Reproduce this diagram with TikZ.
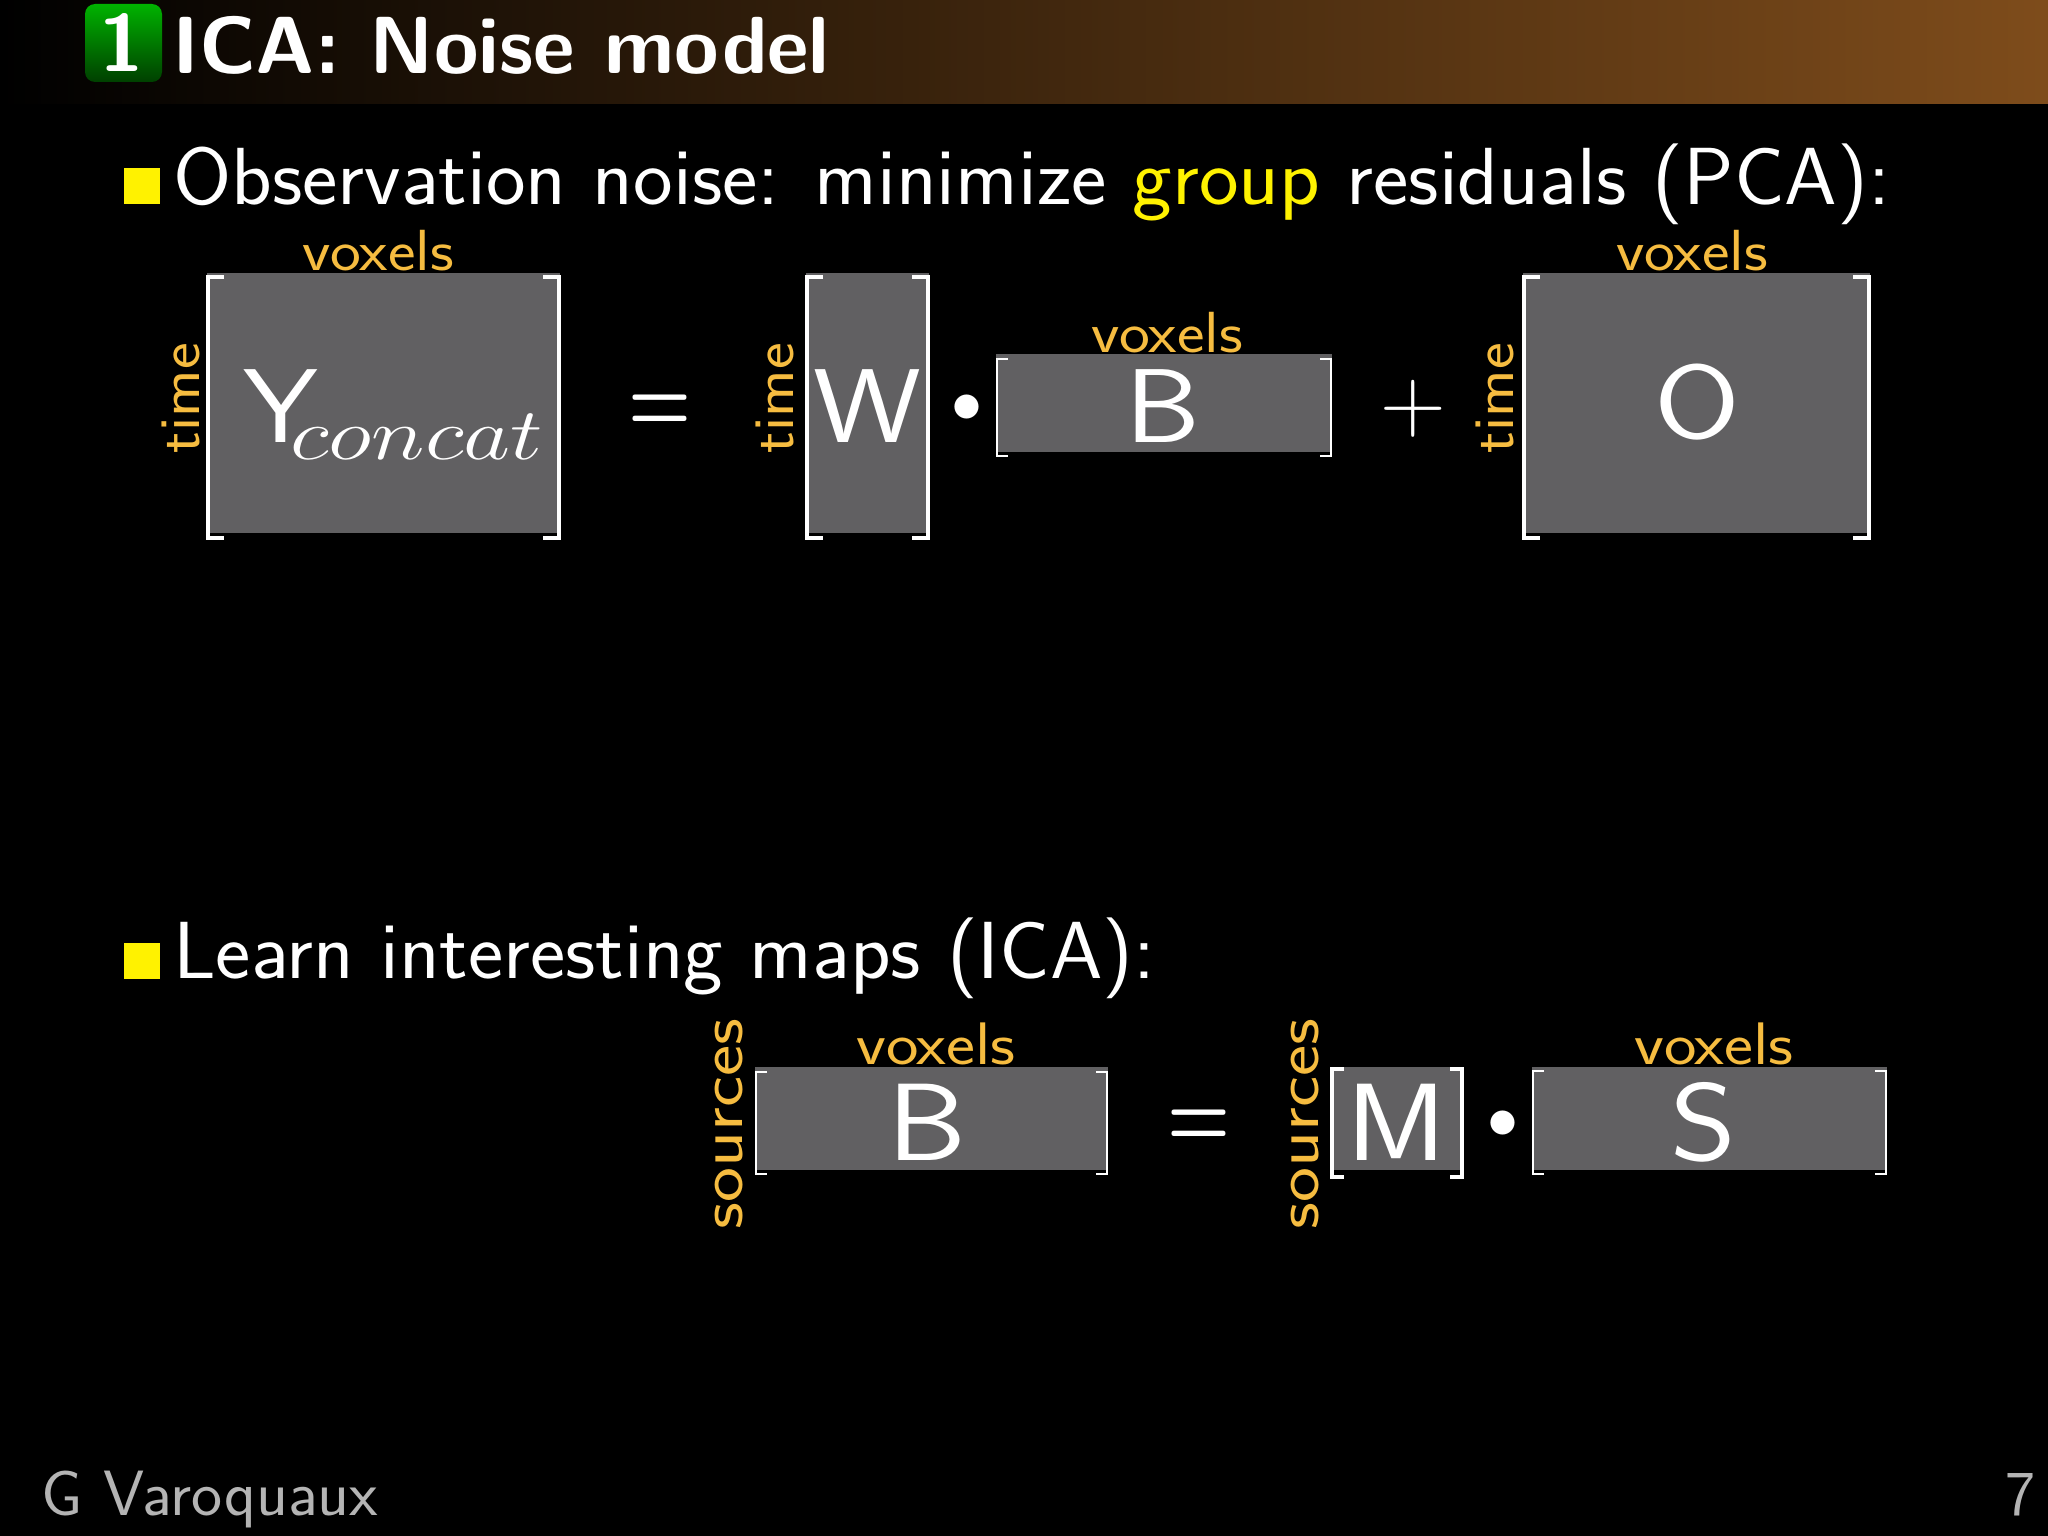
\documentclass[tikz,border=0pt]{standalone}
\usepackage{fix-cm}
\newcommand{\fsz}[1]{\fontsize{#1}{#1}\selectfont}
\newcommand{\xstretch}[2]{\scalebox{#1}[1]{#2}}
\definecolor{titlebrown}{HTML}{7E4C1B}
\definecolor{labelorange}{HTML}{F6BC40}
\definecolor{matgray}{HTML}{616062}
\definecolor{footgray}{HTML}{B4B4B4}
\tikzset{
	bodytext/.style={anchor=base west, inner sep=0pt, text=white, font=\sffamily\fsz{81}},
	biglabel/.style={anchor=base, inner sep=0pt, text=white, font=\sffamily\fsz{105}},
	dimlabel/.style={anchor=base, inner sep=0pt, text=labelorange, font=\sffamily\fsz{58}},
	opsign/.style={anchor=center, inner sep=0pt, text=white, font=\fsz{85}},
	footlabel/.style={anchor=base west, inner sep=0pt, text=footgray, font=\sffamily\fsz{64}},
}

\begin{document}
\begin{tikzpicture}[x=1pt, y=-1pt]
	\useasboundingbox (0,0) rectangle (2048,1536);
	\fill [black] (0,0) rectangle (2048,1536);

	% header band
	\shade [left color=black, right color=titlebrown] (0,0) rectangle (2048,104);
	\shade [rounded corners=10pt, top color=green!70!black, bottom color=black!75!green] (85,4) rectangle (162,82);
	\node (framenum) [anchor=base, inner sep=0pt, text=white, font=\sffamily\bfseries\fsz{81}] at (122,72) {1};
	\node (title) [bodytext, font=\sffamily\bfseries\fsz{81}] at (172,74) {ICA: Noise model};

	% the two items
	\foreach \y in {168,943}
		\fill [yellow] (124,\y) rectangle (160,\y + 36);
	\node (obsline) [bodytext] at (173,204) {\xstretch{1.039}{Observation noise: minimize \textcolor{yellow}{group} residuals (PCA):}};
	\node (learnline) [bodytext] at (173,978) {\xstretch{1.037}{Learn interesting maps (ICA):}};

	% matrices: left, right, top, bottom, bracket top, bracket bottom, tick, width
	\foreach \l/\r/\t/\b/\bt/\bb/\k/\w in {
		207/560/273/533/277/538/17/3.5,
		806/929/273/533/277/538/17/3.5,
		996/1332/354/452/359/456/12/2.5,
		1523/1870/273/533/277/538/17/3.5,
		755/1108/1067/1170/1072/1174/12/2.5,
		1331/1463/1067/1170/1069/1177/13/3.5,
		1532/1887/1067/1170/1071/1174/12/2.5}
	{
		\fill [matgray] (\l,\t) rectangle (\r,\b);
		\draw [white, line width=\w pt] (\l+\k,\bt) -- (\l+1,\bt) -- (\l+1,\bb) -- (\l+\k,\bb);
		\draw [white, line width=\w pt] (\r-\k,\bt) -- (\r-1,\bt) -- (\r-1,\bb) -- (\r-\k,\bb);
	}

	% first equation
	\node (ymat) [biglabel, anchor=base west] at (243,442) {\xstretch{1.14}{Y}};
	\node (concatsub) [biglabel, anchor=base west, font=\fsz{73.5}] at (290,459) {\xstretch{1.245}{$concat$}};
	\node (eqone) [opsign, font=\fsz{72}] at (660,414) {\scalebox{1}[1.35]{\boldmath$=$}};
	\node (wmat) [biglabel] at (867,442) {\xstretch{1.16}{W}};
	\node (dotone) [opsign, font=\fsz{62}] at (967,409) {$\bullet$};
	\node (bmat) [biglabel] at (1163,442) {\xstretch{1.14}{B}};
	\node (plusone) [opsign, font=\fsz{91}] at (1413,409) {$+$};
	\node (omat) [biglabel] at (1697,438) {\xstretch{1.18}{O}};

	\foreach \n/\x/\y in {voxa/378/270, voxb/1167/352, voxc/1692/270}
		\node (\n) [dimlabel] at (\x,\y) {\xstretch{1.13}{voxels}};
	\foreach \n/\x in {timea/199, timeb/793, timec/1513}
		\node (\n) [dimlabel, rotate=90] at (\x,398) {\xstretch{1.1}{time}};

	% second equation
	\node (bmatb) [biglabel, font=\sffamily\fsz{110}] at (927,1160) {\xstretch{1.15}{B}};
	\node (eqtwo) [opsign, font=\fsz{72}] at (1199,1129) {\scalebox{1}[1.35]{\boldmath$=$}};
	\node (mmat) [biglabel, font=\sffamily\fsz{110}] at (1397,1160) {\xstretch{1.11}{M}};
	\node (dottwo) [opsign, font=\fsz{62}] at (1503,1125) {$\bullet$};
	\node (smat) [biglabel, font=\sffamily\fsz{110}] at (1703,1160) {\xstretch{1.15}{S}};

	\foreach \n/\x in {voxd/936, voxe/1714}
		\node (\n) [dimlabel, font=\sffamily\fsz{60}] at (\x,1064) {\xstretch{1.15}{voxels}};
	\foreach \n/\x in {srca/742, srcb/1318}
		\node (\n) [dimlabel, font=\sffamily\fsz{62}, rotate=90] at (\x,1124) {\xstretch{1.2}{sources}};

	% footer
	\node (author) [footlabel] at (41,1515) {\xstretch{1.03}{G Varoquaux}};
	\node (pagenum) [footlabel, anchor=base east] at (2036,1515) {7};
\end{tikzpicture}
\end{document}
